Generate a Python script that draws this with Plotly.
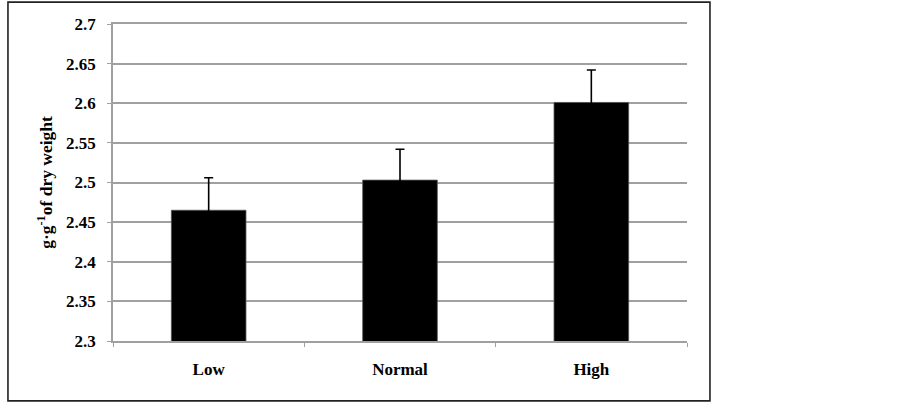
import plotly.graph_objects as go

categories = ["Low", "Normal", "High"]
values = [2.465, 2.503, 2.601]
errors = [0.041, 0.039, 0.041]
y_ticks = [2.3, 2.35, 2.4, 2.45, 2.5, 2.55, 2.6, 2.65, 2.7]
y_title = "g·g<sup>-1</sup>of dry weight"

font_family = "Liberation Serif, Times New Roman, serif"
grid_color = "#a0a0a0"

fig = go.Figure()
fig.add_trace(go.Bar(
    x=categories, y=values,
    marker=dict(color="black", line=dict(color="#555555", width=0.8)),
    width=0.39,
    error_y=dict(type="data", array=errors, symmetric=True,
                 color="black", thickness=1.6, width=4.5),
))

fig.update_layout(
    width=903, height=404,
    margin=dict(l=113, r=216, t=24, b=63),
    paper_bgcolor="white", plot_bgcolor="white",
    showlegend=False,
    font=dict(family=font_family, size=17, color="black"),
    xaxis=dict(
        type="category", range=[-0.5, 2.5],
        showline=True, linecolor=grid_color, linewidth=1.5, mirror=True,
        ticks="outside", tickson="boundaries", ticklen=4, tickcolor=grid_color, tickwidth=1.2,
        tickfont=dict(family=font_family, size=17, color="black", weight="bold"),
        ticklabelstandoff=12,
        showgrid=False,
    ),
    yaxis=dict(
        range=[2.3, 2.7], tickvals=y_ticks, ticktext=[f"{v:g}" for v in y_ticks],
        showline=True, linecolor=grid_color, linewidth=1.5,
        ticks="outside", ticklen=4, tickcolor=grid_color, tickwidth=1.2,
        showgrid=True, gridcolor=grid_color, gridwidth=1.5,
        tickfont=dict(family=font_family, size=17, color="black", weight="bold"),
        ticklabelstandoff=8,
        title=dict(text=y_title, font=dict(family=font_family, size=17.5, color="black", weight="bold"), standoff=9),
        zeroline=False,
    ),
)

fig.add_shape(type="rect", xref="paper", yref="paper",
              x0=-0.183, x1=1.040, y0=-0.189, y1=1.069,
              line=dict(color="#222222", width=1.6), fillcolor="rgba(0,0,0,0)", layer="above")

fig.write_html("out.html", config={"displayModeBar": False},
               post_script="document.body.style.margin='0';document.body.style.overflow='hidden';")
